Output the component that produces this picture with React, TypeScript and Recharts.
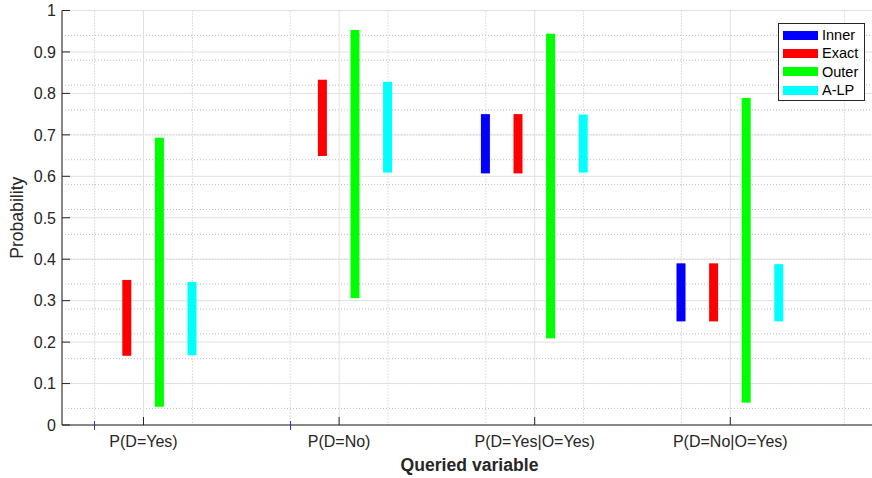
import React from "react";
import { ComposedChart, Bar, XAxis, YAxis, CartesianGrid, Legend, Label } from "recharts";

const categories = ["P(D=Yes)", "P(D=No)", "P(D=Yes|O=Yes)", "P(D=No|O=Yes)"];
const innerBounds = [[0, 0], [0, 0], [0.607, 0.75], [0.25, 0.39]];
const exactBounds = [[0.167, 0.35], [0.649, 0.833], [0.607, 0.75], [0.25, 0.39]];
const outerBounds = [[0.044, 0.693], [0.306, 0.953], [0.209, 0.944], [0.054, 0.789]];
const alpBounds = [[0.168, 0.345], [0.609, 0.828], [0.609, 0.749], [0.25, 0.388]];

const seriesKeys = ["inner", "exact", "outer", "alp"];
const seriesNames = ["Inner", "Exact", "Outer", "A-LP"];
const seriesColors = ["#0000ff", "#ff0000", "#00ff00", "#00ffff"];

const yTicks = [0, 0.1, 0.2, 0.3, 0.4, 0.5, 0.6, 0.7, 0.8, 0.9, 1];
const xTicks = [1, 2, 3, 4];

const data = categories.map((name, i) => ({
  pos: i + 1,
  name,
  inner: innerBounds[i],
  exact: exactBounds[i],
  outer: outerBounds[i],
  alp: alpBounds[i],
}));

// grid helpers (axis config, not data)
const xDomain: [number, number] = [7 / 12, 4.75];
const minorX = xTicks.flatMap((c) => [-3, -1, 3, 5, 7].map((k) => c + k / 12));
const minorY = Array.from({ length: 51 }, (_, i) => i / 50);

const FONT = "'Liberation Sans', Arial, Helvetica, sans-serif";
const AXIS = "#262626";

const BottomTick = (props: any) => {
  const { x, y, payload } = props;
  const axisY = y - 11;
  return (
    <g>
      <line x1={x} x2={x} y1={axisY} y2={axisY - 8} stroke={AXIS} />
      <text x={x} y={y} dy="0.71em" textAnchor="middle" fontSize={16} fill={AXIS} fontFamily={FONT}>
        {categories[payload.value - 1]}
      </text>
    </g>
  );
};

const TopTick = (props: any) => {
  const { x, y } = props;
  return <line x1={x} x2={x} y1={y} y2={y + 8} stroke={AXIS} />;
};

const LeftTick = (props: any) => {
  const { x, y, payload } = props;
  const label = String(Number(payload.value.toFixed(1)));
  return (
    <g>
      <line x1={x + 6} x2={x + 14} y1={y} y2={y} stroke={AXIS} />
      <text x={x} y={y} dy="0.36em" textAnchor="end" fontSize={16} fill={AXIS} fontFamily={FONT}>
        {label}
      </text>
    </g>
  );
};

const RightTick = (props: any) => {
  const { x, y } = props;
  return <line x1={x - 8} x2={x} y1={y} y2={y} stroke={AXIS} />;
};

const IntervalShape = (props: any) => {
  const { x, y, width, height, fill } = props;
  if (!height || Math.abs(height) < 0.5) {
    const cx = Math.round(x + width / 2) + 0.5;
    return <line x1={cx} x2={cx} y1={y - 4} y2={y + 5} stroke={fill} strokeOpacity={0.8} />;
  }
  return <rect x={x} y={y} width={width} height={height} fill={fill} />;
};

const LegendBox = () => (
  <div
    style={{
      boxSizing: "border-box",
      width: 87,
      height: 78,
      border: `1px solid ${AXIS}`,
      background: "#fff",
      paddingTop: 2,
      fontFamily: FONT,
      fontSize: 14.5,
      color: "#000",
    }}
  >
    {seriesNames.map((n, i) => (
      <div key={n} style={{ display: "flex", alignItems: "center", height: 18.3 }}>
        <span style={{ display: "inline-block", width: 35, height: 9, marginLeft: 4, background: seriesColors[i] }} />
        <span style={{ marginLeft: 4, lineHeight: "18px" }}>{n}</span>
      </div>
    ))}
  </div>
);

export default function App() {
  return (
    <div style={{ position: "absolute", left: 0, top: 0, width: 872, height: 478, overflow: "hidden", background: "#fff" }}>
      <ComposedChart
        width={877}
        height={478}
        data={data}
        margin={{ top: 10.5, right: 0, bottom: 0, left: 0 }}
        barGap={23.6}
      >
        <XAxis xAxisId="minorX" type="number" dataKey="pos" domain={xDomain} ticks={minorX} hide allowDataOverflow />
        <YAxis yAxisId="minorY" type="number" domain={[0, 1]} ticks={minorY} hide allowDataOverflow />
        <CartesianGrid xAxisId="minorX" yAxisId="minorY" stroke="#bcbcbc" strokeDasharray="1 2" />
        <CartesianGrid stroke="#e0e0e0" />

        <XAxis
          type="number"
          dataKey="pos"
          domain={xDomain}
          ticks={xTicks}
          interval={0}
          height={53}
          tickSize={0}
          tickMargin={11}
          tickLine={false}
          axisLine={{ stroke: AXIS }}
          tick={<BottomTick />}
        >
          <Label
            value="Queried variable"
            position="insideBottom"
            offset={7}
            style={{ fontFamily: FONT, fontSize: 17.6, fontWeight: "bold", fill: AXIS }}
          />
        </XAxis>
        <XAxis
          xAxisId="top"
          orientation="top"
          type="number"
          dataKey="pos"
          domain={xDomain}
          ticks={xTicks}
          interval={0}
          height={0}
          tickSize={0}
          tickMargin={0}
          tickLine={false}
          axisLine={{ stroke: AXIS }}
          tick={<TopTick />}
        />
        <YAxis
          type="number"
          domain={[0, 1]}
          ticks={yTicks}
          interval={0}
          width={62}
          tickSize={0}
          tickMargin={6}
          tickLine={false}
          axisLine={{ stroke: AXIS }}
          tick={<LeftTick />}
        >
          <Label
            content={(p: any) => {
              const vb = p.viewBox || { y: 10.5, height: 414.5 };
              const cx = 22.5;
              const cy = vb.y + vb.height / 2;
              return (
                <text
                  x={cx}
                  y={cy}
                  transform={`rotate(-90 ${cx} ${cy})`}
                  textAnchor="middle"
                  fontSize={17.6}
                  fontFamily={FONT}
                  fill={AXIS}
                >
                  Probability
                </text>
              );
            }}
          />
        </YAxis>
        <YAxis
          yAxisId="right"
          orientation="right"
          type="number"
          domain={[0, 1]}
          ticks={yTicks}
          interval={0}
          width={0}
          tickSize={0}
          tickMargin={0}
          tickLine={false}
          axisLine={{ stroke: AXIS }}
          tick={<RightTick />}
        />

        {seriesKeys.map((k, i) => (
          <Bar
            key={k}
            dataKey={k}
            name={seriesNames[i]}
            fill={seriesColors[i]}
            barSize={9}
            shape={<IntervalShape />}
            isAnimationActive={false}
          />
        ))}

        <Legend
          layout="vertical"
          align="center"
          verticalAlign="middle"
          wrapperStyle={{ left: 778, top: 23, width: 87, height: 78 }}
          content={() => <LegendBox />}
        />
      </ComposedChart>
    </div>
  );
}
